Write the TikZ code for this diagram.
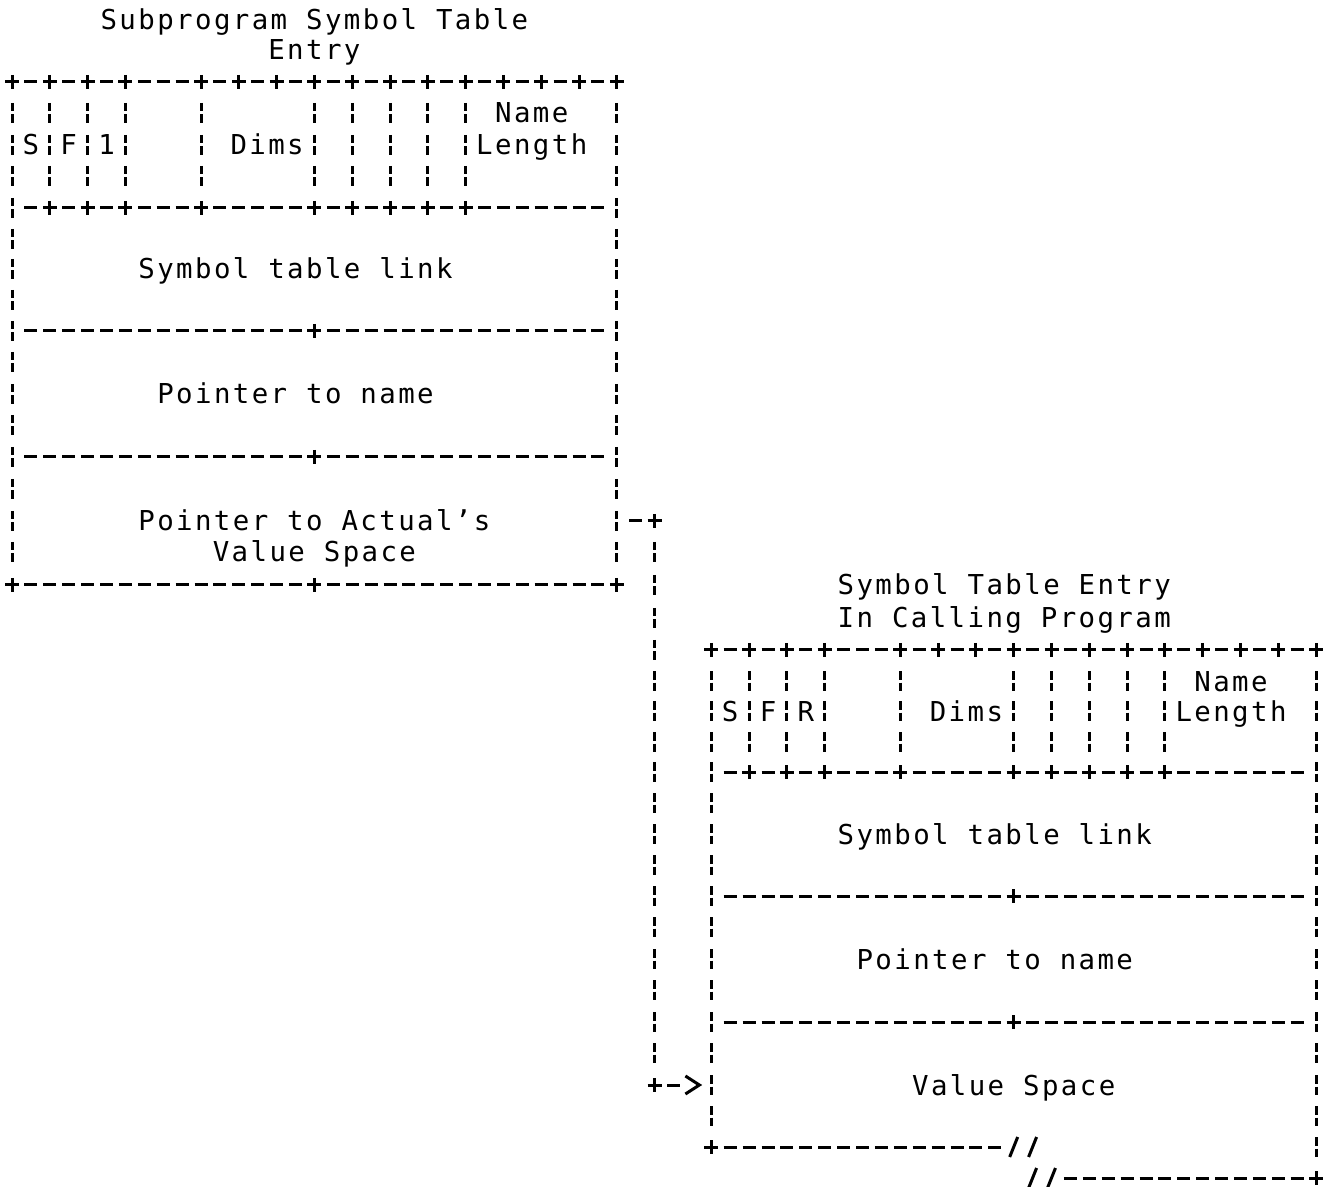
\documentclass[tikz,border=0pt]{standalone}
\usepackage{fontspec}
\newfontfamily\printfont[LetterSpace=8.8]{DejaVu Sans Mono}
\tikzset{
  ink/.style={line width=1.5pt, line cap=butt, black},
  dashrun/.style={ink, dash pattern=on 6.5pt off 2.95pt},
  lbl/.style={anchor=base, inner sep=0pt, font=\printfont\fontsize{13.7pt}{15pt}\selectfont},
}
% character grid of the printout: column c and row r give the cell centre
\newcommand\cx[1]{12+18.9*(#1)}
\def\rowtab{{20,50,82,113,145,176,208,239,269,300,331,362,394,425,457,489,521,552,585,618,650,681,711,742,772,803,834,865,896,927,959,990,1022,1053,1085,1116,1147,1178}}
\newcommand\ry[1]{\rowtab[int(#1)]}
% a run of '-' cells on row #1 from column #2 to column #3
\newcommand\HRun[3]{\draw[dashrun] ({\cx{#2}-6.5},{\ry{#1}}) -- ({\cx{#3}+6.5},{\ry{#1}});}
% one broken bar in column #1, row #2
\newcommand\BBar[2]{\draw[ink] ({\cx{#1}},{\ry{#2}-10}) -- ({\cx{#1}},{\ry{#2}-1.5}) ({\cx{#1}},{\ry{#2}+1.5}) -- ({\cx{#1}},{\ry{#2}+10});}
% broken bars in column #1 from row #2 to row #3
\newcommand\VRun[3]{\pgfmathtruncatemacro\rfrom{#2}\pgfmathtruncatemacro\rto{#3}%
  \foreach \r in {\rfrom,...,\rto} {\BBar{#1}{\r}}}
% a '+' in column #1, row #2
\newcommand\Cross[2]{\draw[ink] ({\cx{#1}-7},{\ry{#2}}) -- ({\cx{#1}+7},{\ry{#2}}) ({\cx{#1}},{\ry{#2}-7}) -- ({\cx{#1}},{\ry{#2}+7});}
% a '/' in column #1, row #2
\newcommand\Slant[2]{\draw[ink] ({\cx{#1}-4},{\ry{#2}+10}) -- ({\cx{#1}+4},{\ry{#2}-10});}
% the common frame of a symbol table entry: header fields and separators
\newcommand\RecordGrid[2]{%
  \HRun{#2+2}{#1}{#1+32}
  \foreach \k in {0,2,4,6,10,12,14,16,18,20,22,24,26,28,30,32} {\Cross{#1+\k}{#2+2}}
  \foreach \k in {2,4,6,10,16,18,20,22,24} {\VRun{#1+\k}{#2+3}{#2+5}}
  \HRun{#2+6}{#1+1}{#1+31}
  \foreach \k in {2,4,6,10,16,18,20,22,24} {\Cross{#1+\k}{#2+6}}
  \foreach \k in {10,14} {\HRun{#2+\k}{#1+1}{#1+31} \Cross{#1+16}{#2+\k}}
}
\begin{document}
\begin{tikzpicture}[x=0.5pt,y=-0.5pt]
\fill[white] (0,0) rectangle (1329,1187);
\useasboundingbox (0,0) rectangle (1329,1187);

% subprogram entry
\RecordGrid{0}{0}
\VRun{0}{3}{17} \VRun{32}{3}{17}
\HRun{18}{0}{32}
\foreach \k in {0,16,32} {\Cross{\k}{18}}

\node[lbl] (subTitle) at ({\cx{16}},{\ry{0}+10}) {Subprogram Symbol Table};
\node[lbl] (subTitleB) at ({\cx{16}},{\ry{1}+10}) {Entry};
\node[lbl] (subS) at ({\cx{1}},{\ry{4}+10}) {S};
\node[lbl] (subF) at ({\cx{3}},{\ry{4}+10}) {F};
\node[lbl] (subOne) at ({\cx{5}},{\ry{4}+10}) {1};
\node[lbl] (subDims) at ({\cx{13.5}},{\ry{4}+10}) {Dims};
\node[lbl] (subName) at ({\cx{27.5}},{\ry{3}+10}) {Name};
\node[lbl] (subLength) at ({\cx{27.5}},{\ry{4}+10}) {Length};
\node[lbl] (subLink) at ({\cx{15}},{\ry{8}+10}) {Symbol table link};
\node[lbl] (subPtr) at ({\cx{15}},{\ry{12}+10}) {Pointer to name};
\node[lbl] (subAct) at ({\cx{16}},{\ry{16}+10}) {Pointer to Actual’s};
\node[lbl] (subActB) at ({\cx{16}},{\ry{17}+10}) {Value Space};

% entry in the calling program
\RecordGrid{37}{18}
\VRun{37}{21}{35} \VRun{69}{21}{36}
\HRun{36}{37}{52} \Cross{37}{36} \Slant{53}{36} \Slant{54}{36}
\Slant{54}{37} \Slant{55}{37} \HRun{37}{56}{69} \Cross{69}{37}

\node[lbl] (calTitle) at ({\cx{52.5}},{\ry{18}+10}) {Symbol Table Entry};
\node[lbl] (calTitleB) at ({\cx{52.5}},{\ry{19}+10}) {In Calling Program};
\node[lbl] (calS) at ({\cx{38}},{\ry{22}+10}) {S};
\node[lbl] (calF) at ({\cx{40}},{\ry{22}+10}) {F};
\node[lbl] (calR) at ({\cx{42}},{\ry{22}+10}) {R};
\node[lbl] (calDims) at ({\cx{50.5}},{\ry{22}+10}) {Dims};
\node[lbl] (calName) at ({\cx{64.5}},{\ry{21}+10}) {Name};
\node[lbl] (calLength) at ({\cx{64.5}},{\ry{22}+10}) {Length};
\node[lbl] (calLink) at ({\cx{52}},{\ry{26}+10}) {Symbol table link};
\node[lbl] (calPtr) at ({\cx{52}},{\ry{30}+10}) {Pointer to name};
\node[lbl] (calVal) at ({\cx{53}},{\ry{34}+10}) {Value Space};

% pointer from the actual's field to the value space
\coordinate (ptrTail) at ({\cx{33}},{\ry{16}});
\coordinate (ptrBendA) at ({\cx{34}},{\ry{16}});
\coordinate (ptrBendB) at ({\cx{34}},{\ry{34}});
\coordinate (ptrHead) at ({\cx{36}},{\ry{34}});
\HRun{16}{33}{34} \Cross{34}{16}
\VRun{34}{17}{33}
\Cross{34}{34} \HRun{34}{34}{35}
\draw[ink, line join=miter] ([shift={(-7,-9)}]ptrHead) -- ([shift={(7,0)}]ptrHead) -- ([shift={(-7,9)}]ptrHead);
\end{tikzpicture}
\end{document}
